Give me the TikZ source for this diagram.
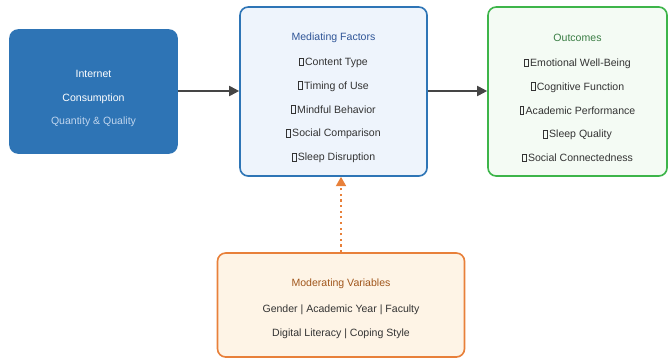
\documentclass[tikz,border=0pt]{standalone}
\usepackage{fontspec}
\setmainfont{Liberation Sans}
\usetikzlibrary{arrows.meta}
\definecolor{inblue}{HTML}{2E74B5}
\definecolor{inlight}{HTML}{BFD5EE}
\definecolor{medfill}{HTML}{EEF4FC}
\definecolor{medline}{HTML}{2E75B6}
\definecolor{medtitle}{HTML}{2F5597}
\definecolor{outfill}{HTML}{F4FBF4}
\definecolor{outline}{HTML}{3DB54A}
\definecolor{outtitle}{HTML}{3A7D44}
\definecolor{modfill}{HTML}{FEF4E6}
\definecolor{modline}{HTML}{E8803A}
\definecolor{modtitle}{HTML}{A0561C}
\definecolor{itemtext}{HTML}{333333}
\definecolor{arrowgray}{HTML}{454545}
\newcommand\tofu{\tikz[baseline=0pt,x=1pt,y=1pt]\draw[line width=.4pt,itemtext] (0,0) rectangle (3.2,6.6);\,}

\begin{document}
\begin{tikzpicture}[x=0.03cm,y=-0.03cm,font=\fontsize{9}{20.3}\selectfont,
  box/.style={rounded corners=7pt,line width=1.4pt},
  flow/.style={arrowgray,line width=1.6pt,-{Triangle[length=3mm,width=3mm]}}]
  \useasboundingbox (0,0) rectangle (669,361);
  % entrada
  \node[box,fill=inblue,draw=inblue,minimum width=5.01cm,minimum height=3.69cm] (inp) at (93.5,91.5) {};
  \node[align=center,white] (inptxt) at (93.5,98.5) {Internet\\Consumption\\[-1pt]\textcolor{inlight}{Quantity \& Quality}};
  % mediadores
  \node[box,fill=medfill,draw=medline,minimum width=5.61cm,minimum height=5.07cm] (med) at (333.5,91.5) {};
  \node[align=center,itemtext] (medtxt) at (333.5,98) {\textcolor{medtitle}{Mediating Factors}\\[1pt]
    \tofu Content Type\\ \tofu Timing of Use\\ \tofu Mindful Behavior\\ \tofu Social Comparison\\ \tofu Sleep Disruption};
  % resultados
  \node[box,fill=outfill,draw=outline,minimum width=5.37cm,minimum height=5.07cm] (out) at (577.5,91.5) {};
  \node[align=center,itemtext] (outtxt) at (577.5,98) {\textcolor{outtitle}{Outcomes}\\[1pt]
    \tofu Emotional Well-Being\\ \tofu Cognitive Function\\ \tofu Academic Performance\\ \tofu Sleep Quality\\ \tofu Social Connectedness};
  % moderadores
  \node[box,fill=modfill,draw=modline,minimum width=7.41cm,minimum height=3.12cm] (mod) at (341,305) {};
  \node[align=center,itemtext] (modtxt) at (341,309) {\textcolor{modtitle}{Moderating Variables}\\[2pt]
    Gender | Academic Year | Faculty\\ Digital Literacy | Coping Style};
  % flechas
  \draw[flow] (inp.east|-0,91) -- (med.west|-0,91);
  \draw[flow] (med.east|-0,91) -- (out.west|-0,91);
  \draw[modline,line width=1.6pt,dash pattern=on 1.8pt off 3pt,-{Triangle[length=2.8mm,width=3mm]}] (mod.north) -- (mod.north|-med.south);
\end{tikzpicture}
\end{document}
